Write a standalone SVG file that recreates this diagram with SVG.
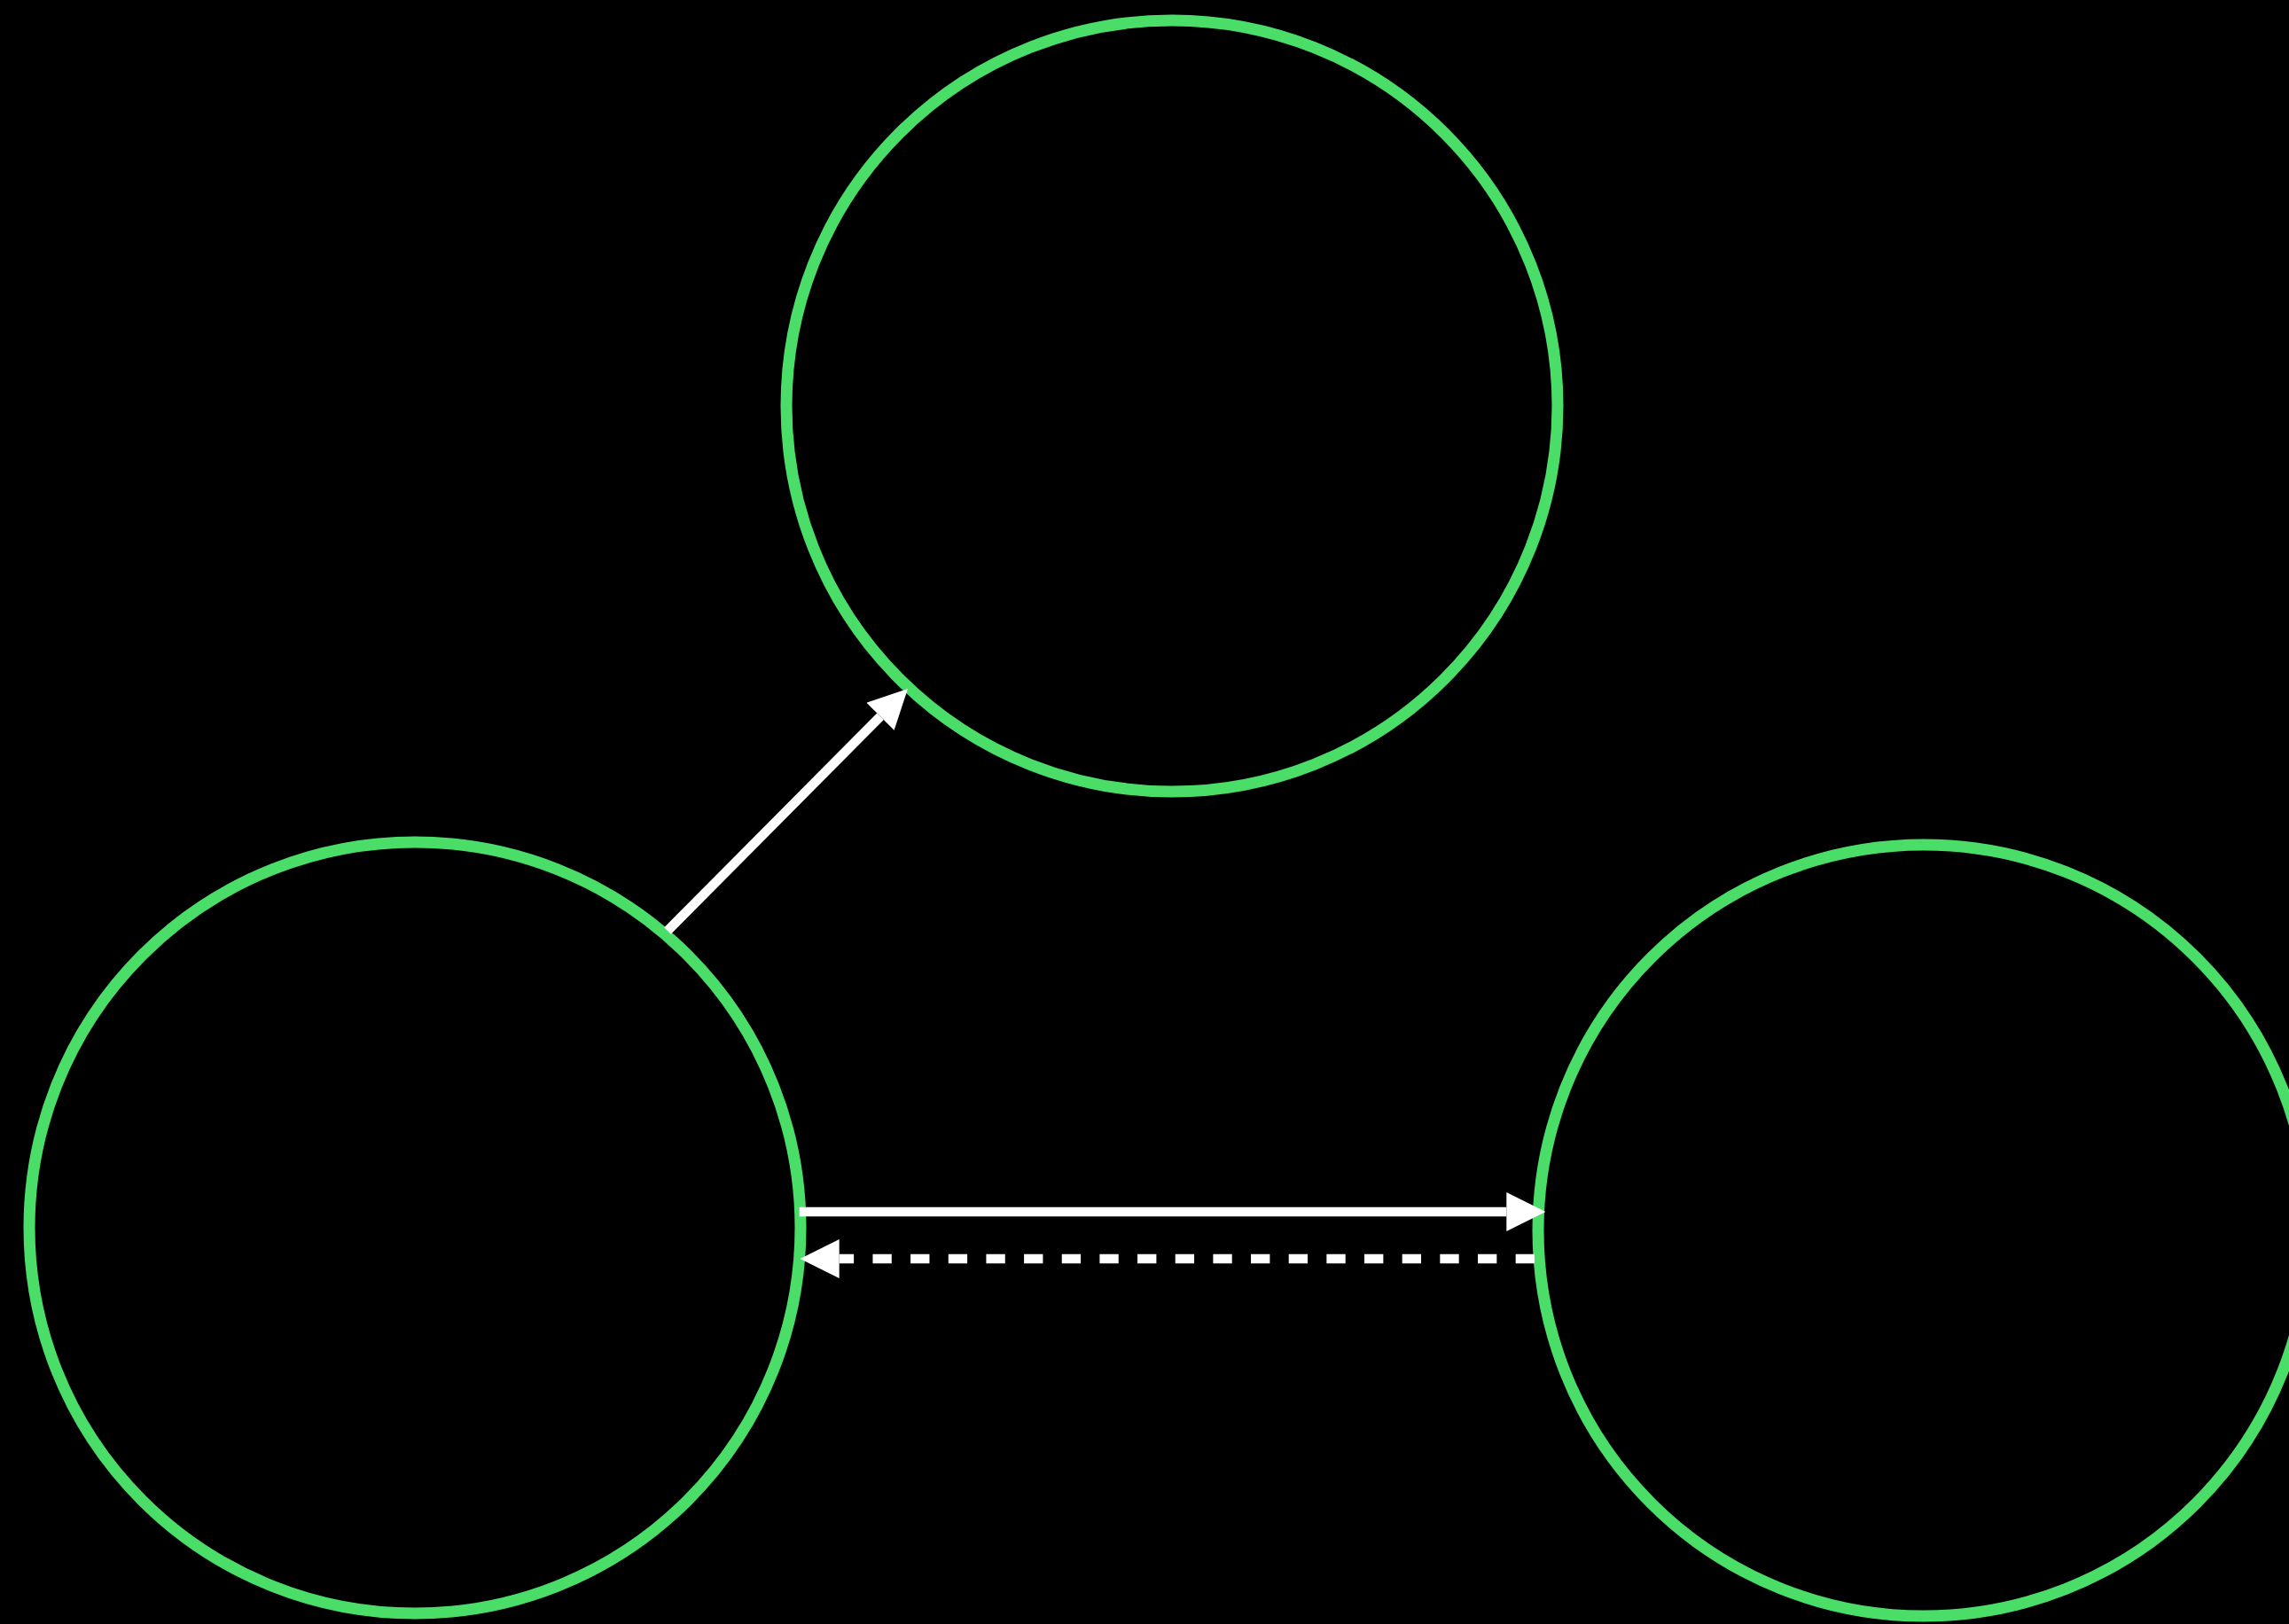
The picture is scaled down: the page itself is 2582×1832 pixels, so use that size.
<svg xmlns="http://www.w3.org/2000/svg" width="2582" height="1832" viewBox="0 0 2582 1832">
  <style>
    .node { fill: #000000; stroke: #4ADE68; stroke-width: 13; }
    .edge { fill: none; stroke: #FFFFFF; stroke-width: 10.67; stroke-linecap: butt; }
    .dashed { stroke-dasharray: 21.33 21.33; }
    .head { fill: #FFFFFF; }
  </style>
  <defs>
    <marker id="arrow" markerUnits="userSpaceOnUse" markerWidth="44" markerHeight="44" refX="0" refY="22" orient="auto" viewBox="0 0 44 44">
      <path class="head" d="M0,0 L44,22 L0,44 Z"/>
    </marker>
  </defs>
  <rect x="0" y="0" width="2582" height="1832" fill="#000000"/>
  <g id="node-top">
    <circle class="node" cx="1322" cy="458" r="435"/>
  </g>
  <g id="node-left">
    <circle class="node" cx="468" cy="1385" r="435"/>
  </g>
  <g id="node-right">
    <circle class="node" cx="2170" cy="1388" r="435"/>
  </g>
  <g id="connectors">
    <path class="edge" d="M753,1050 L993,808.2" marker-end="url(#arrow)"/>
    <path class="edge" d="M901.7,1367 L1699.3,1367" marker-end="url(#arrow)"/>
    <path class="edge dashed" d="M1731,1420 L946.7,1420" marker-end="url(#arrow)"/>
  </g>
</svg>
